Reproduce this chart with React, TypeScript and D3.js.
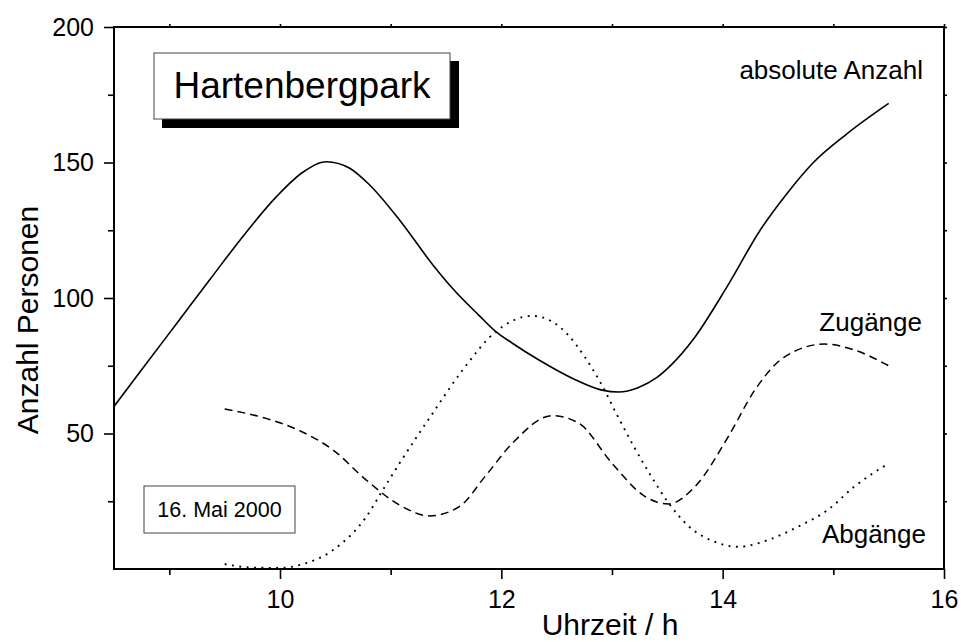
import React, { useEffect, useRef } from "react";
import * as d3 from "d3";

// Uhrzeit (h) / Anzahl Personen
const absoluteHours = [8.5, 8.77, 9.07, 9.37, 9.67, 9.97, 10.21, 10.42, 10.63, 10.81, 11.08, 11.38, 11.56, 11.8, 11.95, 12.1, 12.34, 12.64, 12.91, 13.06, 13.24, 13.4, 13.54, 13.73, 14.04, 14.34, 14.58, 14.82, 15.12, 15.5];
const absoluteCount = [60, 74.6, 90.8, 107, 123, 137.5, 146.5, 150.3, 147.9, 141.7, 128.8, 112.3, 103.5, 93.5, 87.6, 83.3, 77.1, 70.4, 66, 65.3, 67, 70.5, 75.5, 84.5, 104.2, 125.1, 138.5, 150, 160.5, 171.8];

const zugangHours = [9.5, 9.88, 10.18, 10.48, 10.78, 11.08, 11.35, 11.62, 11.85, 12.1, 12.46, 12.7, 13.0, 13.3, 13.51, 13.75, 14.05, 14.29, 14.56, 14.92, 15.19, 15.5];
const zugangCount = [59, 55.5, 51, 43.9, 32.8, 23.6, 19.6, 23, 34, 46.4, 56.6, 53.8, 39, 26.7, 24, 30.4, 48.8, 66, 78.3, 83, 80.8, 75];

const abgangHours = [9.5, 9.76, 10.0, 10.18, 10.48, 10.78, 10.93, 11.08, 11.38, 11.65, 11.95, 12.28, 12.45, 12.6, 12.75, 12.9, 13.05, 13.2, 13.35, 13.5, 13.7, 13.9, 14.14, 14.41, 14.68, 14.95, 15.19, 15.5];
const abgangCount = [1.8, 0.5, 0.4, 1.5, 7, 19.3, 29.2, 39, 57.5, 73.4, 87.6, 93.4, 91.5, 86.5, 78.5, 68.5, 56.5, 45, 34.5, 25, 15.5, 10.5, 8.2, 10.7, 15.6, 21.8, 30.4, 39];

const xMajor = [10, 12, 14, 16];
const xMinor = [9, 11, 13, 15];
const yMajor = [50, 100, 150, 200];
const yMinor = [25, 75, 125, 175];

const FONT = "'Liberation Sans', Arial, Helvetica, sans-serif";

const W = 961;
const H = 642;
const left = 114, right = 944, top = 27, bottom = 569;

const x = d3.scaleLinear().domain([8.5, 16]).range([left, right]);
const y = d3.scaleLinear().domain([0, 200]).range([bottom, top]);

const toPts = (xs: number[], ys: number[]) => xs.map((t, i) => [t, ys[i]] as [number, number]);

const line = d3
  .line<[number, number]>()
  .x((d) => x(d[0]))
  .y((d) => y(d[1]))
  .curve(d3.curveMonotoneX);

const App = () => {
  const gRef = useRef<SVGGElement>(null);

  useEffect(() => {
    const g = d3.select(gRef.current);
    g.selectAll("*").remove();

    const style = (sel: any) => {
      sel.select(".domain").remove();
      sel.selectAll("line").attr("stroke", "#000").attr("stroke-width", 1.6);
      sel.selectAll("text").attr("font-family", FONT).attr("font-size", 25).attr("fill", "#000");
    };

    // bottom axis
    g.append("g")
      .attr("transform", `translate(0,${bottom})`)
      .call(d3.axisBottom(x).tickValues(xMajor).tickSize(10).tickFormat(d3.format("d")))
      .call(style)
      .call((s) => s.selectAll("text").attr("y", 39).attr("dy", 0));
    g.append("g")
      .attr("transform", `translate(0,${bottom})`)
      .call(d3.axisBottom(x).tickValues(xMinor).tickSize(6).tickFormat(() => ""))
      .call(style);

    // top axis (small marks)
    g.append("g")
      .attr("transform", `translate(0,${top})`)
      .call(d3.axisTop(x).tickValues([...xMinor, ...xMajor]).tickSize(3).tickFormat(() => ""))
      .call(style);

    // left axis
    g.append("g")
      .attr("transform", `translate(${left},0)`)
      .call(d3.axisLeft(y).tickValues(yMajor).tickSize(10).tickPadding(10).tickFormat(d3.format("d")))
      .call(style);
    g.append("g")
      .attr("transform", `translate(${left},0)`)
      .call(d3.axisLeft(y).tickValues(yMinor).tickSize(6).tickFormat(() => ""))
      .call(style);

    // right axis (small marks)
    g.append("g")
      .attr("transform", `translate(${right},0)`)
      .call(d3.axisRight(y).tickValues([...yMinor, ...yMajor]).tickSize(3).tickFormat(() => ""))
      .call(style);
  }, []);

  return (
    <svg
      width={W}
      height={H}
      style={{ position: "absolute", left: 0, top: 0, background: "#fff" }}
      fontFamily={FONT}
    >
      <defs>
        <clipPath id="plot">
          <rect x={left} y={top} width={right - left} height={bottom - top} />
        </clipPath>
      </defs>
      <rect width={W} height={H} fill="#fff" />

      <g clipPath="url(#plot)" fill="none" stroke="#000">
        <path d={line(toPts(absoluteHours, absoluteCount)) || ""} strokeWidth={1.6} />
        <path d={line(toPts(zugangHours, zugangCount)) || ""} strokeWidth={1.5} strokeDasharray="8,5" />
        <path d={line(toPts(abgangHours, abgangCount)) || ""} strokeWidth={1.9} strokeDasharray="1.9,5.5" />
      </g>

      <rect x={left} y={top} width={right - left} height={bottom - top} fill="none" stroke="#000" strokeWidth={2} />
      <g ref={gRef} />

      {/* title box with shadow */}
      <rect x={162} y={61} width={297} height={67} fill="#000" />
      <rect x={154} y={53} width={296} height={66} fill="#fff" stroke="#444" strokeWidth={1} />
      <text x={302} y={98} textAnchor="middle" fontSize={37}>
        Hartenbergpark
      </text>

      <rect x={144} y={486} width={151} height={47} fill="#fff" stroke="#444" strokeWidth={1} />
      <text x={219.5} y={517} textAnchor="middle" fontSize={21.5}>
        16. Mai 2000
      </text>

      <text x={923} y={79} textAnchor="end" fontSize={26}>
        absolute Anzahl
      </text>
      <text x={922} y={331} textAnchor="end" fontSize={26}>
        Zugänge
      </text>
      <text x={926} y={543} textAnchor="end" fontSize={26}>
        Abgänge
      </text>

      <text x={610} y={635} textAnchor="middle" fontSize={30}>
        Uhrzeit / h
      </text>
      <text transform="translate(38,320) rotate(-90)" textAnchor="middle" fontSize={30}>
        Anzahl Personen
      </text>
    </svg>
  );
};

export default App;
